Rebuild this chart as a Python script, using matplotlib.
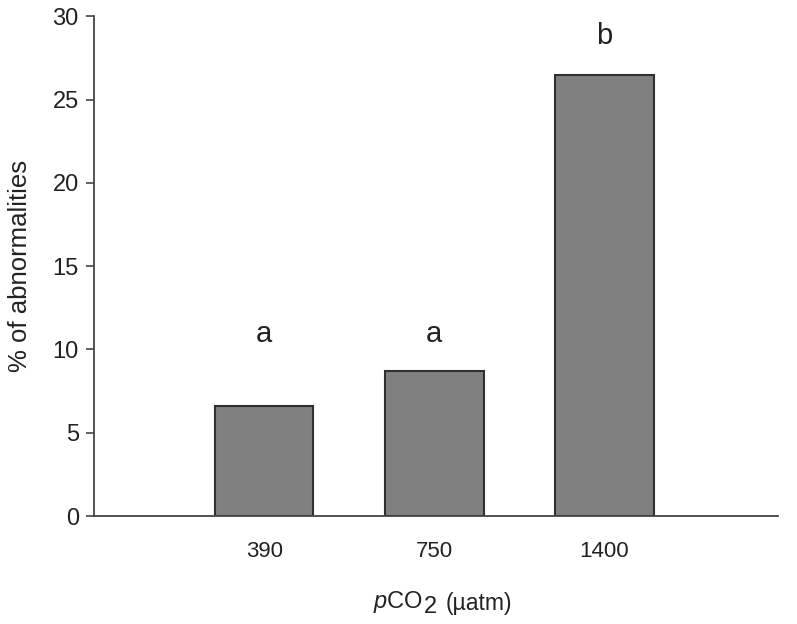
import matplotlib.pyplot as plt

plt.rcParams['font.family'] = ['Liberation Sans', 'DejaVu Sans']
plt.rcParams['mathtext.fontset'] = 'custom'
plt.rcParams['mathtext.rm'] = 'Liberation Sans'
plt.rcParams['mathtext.it'] = 'Liberation Sans:italic'

# data
co2_levels = ['390', '750', '1400']
abnormal_pct = [6.6, 8.7, 26.5]
sig_letters = ['a', 'a', 'b']
letter_y = [10.9, 10.9, 28.8]

fig = plt.figure(figsize=(7.97, 6.24), dpi=100)
ax = fig.add_axes([0.118, 0.173, 0.858, 0.801])

pos = [1, 2, 3]
ax.bar(pos, abnormal_pct, width=0.58, color='#808080',
       edgecolor='#303030', linewidth=1.5, zorder=2)

for x, lab, y in zip(pos, sig_letters, letter_y):
    ax.text(x, y, lab, ha='center', va='center', fontsize=21, color='#222222')

ax.set_xlim(0, 4.02)
ax.set_ylim(0, 30)
ax.set_yticks(range(0, 31, 5))
ax.set_xticks(pos)
ax.set_xticklabels(co2_levels)

for side in ['top', 'right']:
    ax.spines[side].set_visible(False)
for side in ['left', 'bottom']:
    ax.spines[side].set_color('#444444')
    ax.spines[side].set_linewidth(1.3)

ax.tick_params(axis='y', direction='out', length=6, width=1.2,
               color='#444444', labelsize=17, pad=5, labelcolor='#222222')
ax.tick_params(axis='x', length=0, labelsize=16, pad=18, labelcolor='#222222')

ax.set_ylabel('% of abnormalities', fontsize=18.5, color='#222222', labelpad=15)

# x label: italic p, CO, a lowered full-size 2, then the unit
t1 = fig.text(373 / 797, 1 - 608 / 624, r'$\it{p}$CO', fontsize=17,
              color='#222222', va='baseline')
t2 = ax.annotate('2', xy=(1, 0), xycoords=t1, xytext=(0.5, 1.5),
                 textcoords='offset points', va='baseline', fontsize=17,
                 color='#222222')
ax.annotate('(µatm)', xy=(1, 0), xycoords=(t2, t1), xytext=(6, 0),
            textcoords='offset points', va='bottom', fontsize=16.5,
            color='#222222')

fig.savefig('out.png', dpi=100)
